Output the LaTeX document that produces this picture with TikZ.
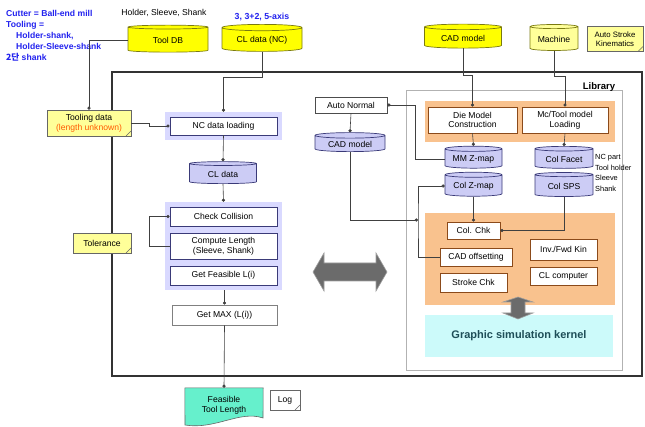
\documentclass[tikz,border=0pt]{standalone}
\usepackage{fontspec}
\setmainfont{Liberation Sans}
\newfontfamily\krfont{Noto Sans CJK KR}
\usetikzlibrary{shapes.geometric,arrows.meta,calc}
\definecolor{ylw}{HTML}{FFFF00}
\definecolor{lylw}{HTML}{FFFF99}
\definecolor{ylwb}{HTML}{7A7A10}
\definecolor{lav}{HTML}{CCCCF5}
\definecolor{lavsh}{HTML}{D9D9FF}
\definecolor{orng}{HTML}{F9C28E}
\definecolor{cyn}{HTML}{CCFAFA}
\definecolor{ftlc}{HTML}{66F0CC}
\definecolor{bluetxt}{HTML}{2222EE}
\definecolor{brownb}{HTML}{8B4A1A}
\definecolor{purpb}{HTML}{3A3A78}
\definecolor{kerneltxt}{HTML}{1E4E58}
\definecolor{orangetxt}{HTML}{FF5A00}
\begin{document}
\begin{tikzpicture}[x=1pt,y=-1pt,
  every node/.style={font=\fontsize{8.6}{9.6}\selectfont, inner sep=1pt, align=center},
  cyl/.style={cylinder, shape border rotate=90, aspect=0.12, draw=#1, line width=0.7pt},
  wbox/.style={draw=purpb, fill=white, line width=0.8pt, minimum width=107pt},
  obox/.style={draw=brownb, fill=white, line width=0.8pt},
  notebox/.style={draw=black!60, fill=lylw, line width=0.5pt,
    path picture={\draw[black!60] ([xshift=-5pt]path picture bounding box.south east) -- ([yshift=5pt]path picture bounding box.south east);}},
  conn/.style={draw=black!75, line width=0.6pt, -{Circle[length=3.2pt]}},
  fatarrow/.style={fill=black!58, draw=black!38, line width=0.6pt}
]
\useasboundingbox (0,0) rectangle (645,427);
% frame and library
\draw[line width=1.4pt, black!80] (112,72) rectangle (642,376);
\draw[black!30, fill=white, line width=0.5pt] (406,90) rectangle (622,370);
\node[font=\bfseries\fontsize{9.5}{10}\selectfont] (lib) at (599,87) {Library};

% top-left text
\node[anchor=north west, align=left, text=bluetxt, font=\bfseries\fontsize{8.6}{11}\selectfont] (tl) at (5,9)
 {Cutter = Ball-end mill\\Tooling =\\\hspace*{10pt}Holder-shank,\\\hspace*{10pt}Holder-Sleeve-shank\\{\krfont 2단} shank};
\node (hss) at (164,13) {Holder, Sleeve, Shank};
\node[text=bluetxt, font=\bfseries\fontsize{8.8}{9}\selectfont] (axis) at (262,17) {3, 3+2, 5-axis};

% top cylinders
\node[cyl=ylwb, fill=ylw, minimum width=80pt, minimum height=27pt] (tooldb) at (168,40) {Tool DB};
\node[cyl=ylwb, fill=ylw, minimum width=80pt, minimum height=27pt] (cldata) at (262,40) {CL data (NC)};
\node[cyl=ylwb, fill=ylw, minimum width=77pt, minimum height=24pt] (cadtop) at (463,38) {CAD model};
\node[cyl=ylwb, fill=lylw, minimum width=48pt, minimum height=26pt] (machine) at (554,39) {Machine};
\node[notebox, minimum width=56pt, minimum height=25pt, font=\fontsize{7.8}{8.8}\selectfont] (autostroke) at (615,39) {Auto Stroke\\Kinematics};

% left column
\node[notebox, minimum width=84pt, minimum height=26pt] (tooling) at (89,123) {Tooling data\\{\color{orangetxt}(length unknown)}};
\node[notebox, minimum width=58pt, minimum height=20pt] (tol) at (102,243) {Tolerance};
\node[fill=lavsh, minimum width=117pt, minimum height=28pt] (ncgrp) at (223.5,126) {};
\node[wbox, minimum height=18pt] (ncload) at (223.5,126) {NC data loading};
\node[cyl=purpb, fill=lav, minimum width=67pt, minimum height=22pt] (cldat) at (223,174) {CL data};
\node[fill=lavsh, minimum width=117pt, minimum height=88pt] (chkgrp) at (223.5,246) {};
\node[wbox, minimum height=19pt] (check) at (223.5,216.5) {Check Collision};
\node[wbox, minimum height=26pt] (compute) at (223.5,246) {Compute Length\\(Sleeve, Shank)};
\node[wbox, minimum height=19pt] (getfeas) at (223.5,275.5) {Get Feasible L(i)};
\node[draw=black!50, fill=white, line width=0.8pt, minimum width=105pt, minimum height=20pt] (getmax) at (224.5,315) {Get MAX (L(i))};
\node[minimum width=78pt, minimum height=34pt] (ftl) at (224,405) {};
\fill[ftlc] (ftl.north west) -- (ftl.north east) -- (263,418) .. controls (240,410) and (215,430) .. (185,425) -- cycle;
\draw[black!60, line width=0.6pt] (ftl.north west) -- (ftl.north east) -- (263,418) .. controls (240,410) and (215,430) .. (185,425) -- cycle;
\node (ftltext) at (ftl.center) {Feasible\\Tool Length};
\node[notebox, fill=white, minimum width=30pt, minimum height=20pt] (log) at (285,400) {Log};

% middle
\coordinate (bigarrow) at (350,272);
\draw[fatarrow] (313,272) -- (324,253) -- (324,263) -- (376,263) -- (376,253) -- (387,272)
  -- (376,291) -- (376,281) -- (324,281) -- (324,291) -- cycle;
\node[draw=black!70, fill=white, line width=0.7pt, minimum width=72pt, minimum height=16pt] (autonormal) at (351,105) {Auto Normal};
\node[cyl=purpb, fill=lav, minimum width=70pt, minimum height=19pt] (cadmid) at (350,144) {CAD model};

% right: orange top group
\node[fill=orng, minimum width=190pt, minimum height=41pt] (otop) at (520,121.5) {};
\node[obox, minimum width=89pt, minimum height=26pt] (diemodel) at (472.5,120) {Die Model\\Construction};
\node[obox, minimum width=86pt, minimum height=26pt] (mctool) at (565,120) {Mc/Tool model\\Loading};
\node[cyl=purpb, fill=lav, minimum width=57pt, minimum height=24pt] (colz) at (473.5,186) {Col Z-map};
\node[cyl=purpb, fill=lav, minimum width=57pt, minimum height=22pt] (mmz) at (473.5,159) {MM Z-map};
\node[cyl=purpb, fill=lav, minimum width=58pt, minimum height=24pt] (colsps) at (564,186) {Col SPS};
\node[cyl=purpb, fill=lav, minimum width=58pt, minimum height=22pt] (colfacet) at (564,159) {Col Facet};
\node[anchor=west, align=left, font=\fontsize{7.4}{10.8}\selectfont] (parts) at (594,173) {NC part\\Tool holder\\Sleeve\\Shank};

% right: orange bottom group
\node[fill=orng, minimum width=190pt, minimum height=92pt] (obot) at (520,259) {};
\node[obox, minimum width=53pt, minimum height=17pt] (colchk) at (473.5,230.5) {Col. Chk};
\node[obox, minimum width=72pt, minimum height=18pt] (cadoff) at (476,257) {CAD offsetting};
\node[obox, minimum width=67pt, minimum height=19pt] (stroke) at (473.5,282.5) {Stroke Chk};
\node[obox, minimum width=67pt, minimum height=21pt] (invfwd) at (563.5,249.5) {Inv./Fwd Kin};
\node[obox, minimum width=67pt, minimum height=18pt] (clcomp) at (563.5,276) {CL computer};
\node[fill=cyn, minimum width=188pt, minimum height=42pt, text=kerneltxt, font=\bfseries\fontsize{11}{12}\selectfont] (kernel) at (519,336) {Graphic simulation kernel};
\coordinate (smallarrow) at (518,308);
\draw[fatarrow] (518,297) -- (533,302) -- (525,302) -- (525,313) -- (533,313) -- (518,319)
  -- (503,313) -- (511,313) -- (511,302) -- (503,302) -- cycle;

% connectors
\draw[conn] (tooldb.west) -| (tooling.north);
\draw[conn] (cldata.south) -- ++(0,26) -| (ncgrp.north);
\draw[conn] (tooling.east) -- ++(18,0) |- (ncload.west);
\draw[conn] (ncload.south) -- (cldat.north);
\draw[conn] (cldat.south) -- (chkgrp.north);
\draw[conn] (compute.west) -- ++(-20,0) |- (check.west);
\draw[conn] (chkgrp.south -| getmax.north) -- (getmax.north);
\draw[conn] (getmax.south) -- (ftl.north);
\draw[conn] (autonormal.south) -- (cadmid.north);
\coordinate (jct) at (418,220);
\draw[conn] (cadmid.south) |- (jct);
\draw[conn] (cadoff.west) -| (jct) |- (colz.west);
\draw[conn] (mmz.west) -- ++(-29,0) |- (autonormal.east);
\draw[conn] (cadtop.south) -- ++(0,27) -| (diemodel.north);
\draw[conn] (machine.south) -- ++(0,25) -| (mctool.north);
\draw[conn] (diemodel.south) -- (mmz.north);
\draw[conn] (mctool.south) -- (colfacet.north);
\draw[conn] (colz.south) -- (colchk.north);
\draw[conn] (colsps.south) |- (colchk.east);
\end{tikzpicture}
\end{document}
